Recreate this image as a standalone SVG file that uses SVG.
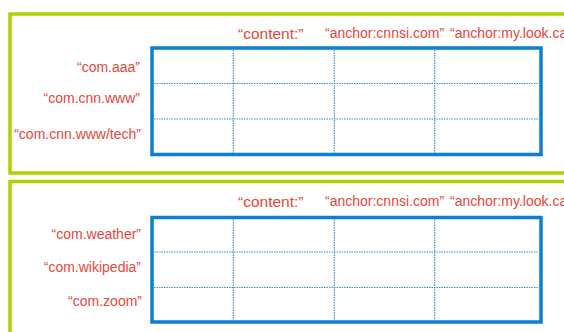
<svg xmlns="http://www.w3.org/2000/svg" width="564" height="332" viewBox="0 0 564 332">
<style>
.frame{fill:none;stroke:#afd000;stroke-width:3.5}
.tbl{fill:#ffffff;stroke:#0a7fd4;stroke-width:3.5}
.grid{stroke:#3b92dc;stroke-width:1.2;stroke-dasharray:1.5 1;fill:none}
.lbl{font-family:"Liberation Sans",Arial,sans-serif;font-size:14px;fill:#e9463a}
.row{text-anchor:end}
.big{font-size:15.5px}
</style>
<rect width="564" height="332" fill="#ffffff"/>
<g id="frame1">
<rect class="frame" x="10" y="14" width="580" height="159"/>
<g id="table1">
<rect class="tbl" x="152" y="48" width="389" height="106.5"/>
<path class="grid" d="M154 83.5H539.5M154 119H539.5M233.3 50V153M334.3 50V153M434.7 50V153"/>
</g>
<g id="headers1">
<text class="lbl big" x="238" y="39">“content:”</text>
<text class="lbl" x="325" y="38">“anchor:cnnsi.com”</text>
<text class="lbl" x="450" y="38">“anchor:my.look.ca”</text>
</g>
<g id="rows1">
<text class="lbl row" x="140" y="71.5">“com.aaa”</text>
<text class="lbl row" x="140" y="103">“com.cnn.www”</text>
<text class="lbl row" x="141" y="139">“com.cnn.www/tech”</text>
</g>
</g>
<g id="frame2">
<rect class="frame" x="10" y="181.5" width="580" height="170"/>
<g id="table2">
<rect class="tbl" x="152" y="217.5" width="389" height="104.5"/>
<path class="grid" d="M154 252H539.5M154 287.5H539.5M233.3 219.5V320.5M334.3 219.5V320.5M434.7 219.5V320.5"/>
</g>
<g id="headers2">
<text class="lbl big" x="238" y="207">“content:”</text>
<text class="lbl" x="325" y="206">“anchor:cnnsi.com”</text>
<text class="lbl" x="450" y="206">“anchor:my.look.ca”</text>
</g>
<g id="rows2">
<text class="lbl row" x="141" y="238.5">“com.weather”</text>
<text class="lbl row" x="141" y="272">“com.wikipedia”</text>
<text class="lbl row" x="142" y="306">“com.zoom”</text>
</g>
</g>
<g id="connectors"/>
</svg>
